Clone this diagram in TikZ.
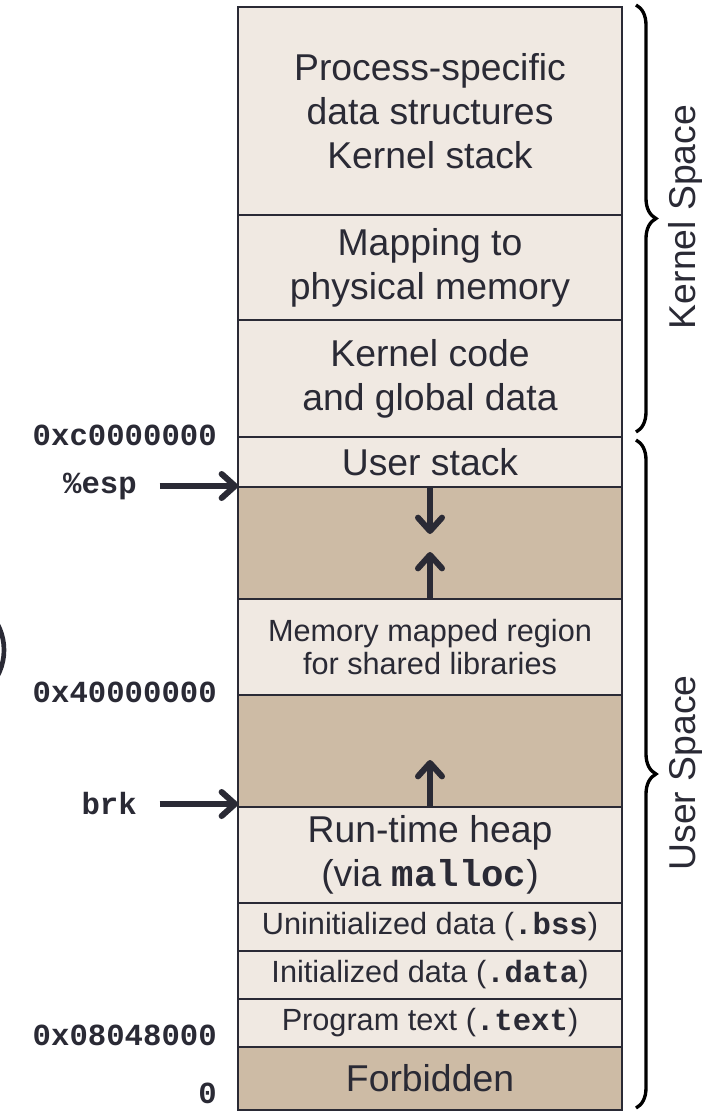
\documentclass[tikz,border=0pt]{standalone}
\usepackage{fontspec}
\setmainfont{Liberation Sans}
\setmonofont{Liberation Mono}
\usetikzlibrary{positioning,arrows.meta,decorations.pathreplacing}
\definecolor{inkgray}{HTML}{2A2A35}
\definecolor{segpale}{HTML}{F0E9E2}
\definecolor{segtan}{HTML}{CDBBA5}

\begin{document}
\begin{tikzpicture}[x=0.75pt, y=-0.75pt,
    segPale/.style={rectangle, draw=inkgray, fill=segpale, line width=1.5pt, inner sep=0pt, outer sep=0pt, minimum width=288pt, align=center, text=inkgray, font=\fontsize{28}{33}\selectfont},
    segTan/.style={segPale, fill=segtan},
    smallSeg/.style={font=\fontsize{23}{25}\selectfont},
    addrLabel/.style={anchor=east, inner sep=0pt, text=inkgray, font=\fontsize{23}{25}\selectfont\ttfamily\bfseries},
    ptrArrow/.style={draw=inkgray, line width=4.5pt, -{Straight Barb[length=10pt,width=18pt,round]}},
    spaceBrace/.style={draw=black, line width=2.5pt, decorate, decoration={brace, amplitude=15pt}},
    spaceLabel/.style={rotate=90, inner sep=0pt, text=inkgray, font=\fontsize{28}{33}\selectfont}
]
    \useasboundingbox (0,0) rectangle (702,1111);

    % kernel part of the address space
    \node[segPale, minimum height=156pt] (kData) at (430,111) {Process-specific\\data structures\\Kernel stack};
    \node[segPale, minimum height=78.75pt] (kMap) at (430,267.5) {Mapping to\\physical memory};
    \node[segPale, minimum height=87.75pt] (kCode) at (430,378.5) {Kernel code\\and global data};

    % user part
    \node[segPale, minimum height=37.5pt] (uStack) at (430,462) {User stack};
    \node[segTan, minimum height=84pt] (stackGap) at (430,543) {};
    \node[segPale, smallSeg, minimum height=72pt] (mmap) at (430,647) {Memory mapped region\\for shared libraries};
    \node[segTan, minimum height=84pt] (heapGap) at (430,751) {};
    \node[segPale, minimum height=72pt] (heap) at (430,855) {Run-time heap\\(via \texttt{\textbf{malloc}})};
    \node[segPale, smallSeg, minimum height=36pt] (bss) at (430,927) {Uninitialized data (\texttt{\textbf{.bss}})};
    \node[segPale, smallSeg, minimum height=36pt] (idata) at (430,975) {Initialized data (\texttt{\textbf{.data}})};
    \node[segPale, smallSeg, minimum height=36pt] (ptext) at (430,1023) {Program text (\texttt{\textbf{.text}})};
    \node[segTan, minimum height=47.25pt] (forbid) at (430,1078.5) {Forbidden};

    % growth arrows
    \coordinate (stackTip) at (430,534);
    \coordinate (mmapTip) at (430,552);
    \coordinate (heapTip) at (430,760);
    \draw[ptrArrow] (stackGap.north) -- (stackTip);
    \draw[ptrArrow] (stackGap.south) -- (mmapTip);
    \draw[ptrArrow] (heapGap.south) -- (heapTip);

    % addresses and pointers
    \node[addrLabel] (addrKern) at (217,435) {0xc0000000};
    \node[addrLabel] (espLbl) at (137,486) {\%esp};
    \node[addrLabel] (addrMmap) at (217,692) {0x40000000};
    \node[addrLabel] (brkLbl) at (137,804) {brk};
    \node[addrLabel] (addrText) at (217,1035) {0x08048000};
    \node[addrLabel] (addrZero) at (217,1093) {0};
    \draw[ptrArrow] ([xshift=17pt]espLbl.east) -- (espLbl.east -| stackGap.west);
    \draw[ptrArrow] ([xshift=17pt]brkLbl.east) -- (brkLbl.east -| heap.west);

    % braces
    \draw[spaceBrace] (636,5) -- (636,432);
    \draw[spaceBrace] (636,440) -- (636,1108);
    \node[spaceLabel] (kernLbl) at (686,217) {Kernel Space};
    \node[spaceLabel] (userLbl) at (686,773) {User Space};

    \draw[inkgray, line width=3.5pt] (-51,650) circle[radius=55];
\end{tikzpicture}
\end{document}
